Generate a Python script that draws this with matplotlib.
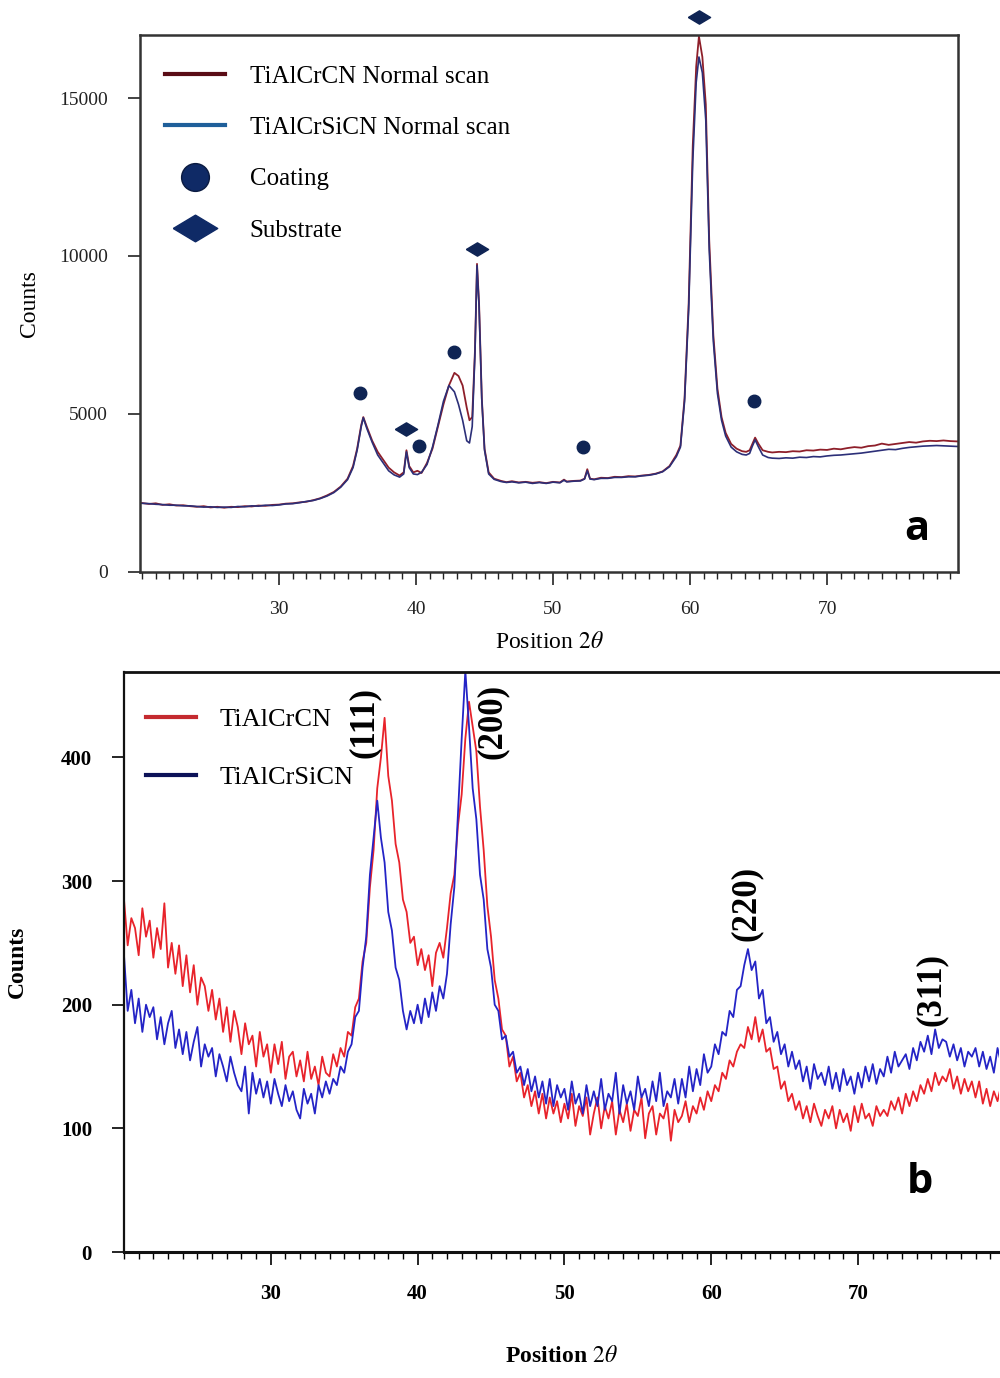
import numpy as np
import matplotlib
matplotlib.use("Agg")
import matplotlib.pyplot as plt
from matplotlib.lines import Line2D
from matplotlib.ticker import MultipleLocator

plt.rcParams['font.family'] = ['Liberation Serif', 'DejaVu Serif']
plt.rcParams['mathtext.fontset'] = 'stix'

# ---- panel a : normal scan in segments ----
x_a1 = [20.0, 20.5, 21.0, 21.5, 22.0, 22.5, 23.0, 23.5, 24.0, 24.5, 25.0, 25.5, 26.0, 26.5, 27.0,
        27.5, 28.0, 28.5, 29.0, 29.5, 30.0, 30.5, 31.0, 31.5, 32.0, 32.5, 33.0, 33.5, 34.0, 34.5]
red_a1 = [2180, 2150, 2170, 2120, 2140, 2100, 2110, 2080, 2060, 2080, 2040, 2060, 2030, 2060, 2050,
          2080, 2070, 2100, 2090, 2120, 2130, 2160, 2170, 2200, 2220, 2270, 2330, 2420, 2530, 2700]
blue_a1 = [2170, 2160, 2140, 2130, 2110, 2110, 2090, 2090, 2070, 2050, 2060, 2040, 2050, 2040, 2070,
           2060, 2090, 2080, 2110, 2100, 2120, 2150, 2160, 2190, 2230, 2260, 2320, 2400, 2510, 2680]

x_a2 = [35.0, 35.4, 35.7, 36.0, 36.15, 36.4, 36.8, 37.2, 37.6, 38.0, 38.4, 38.8, 39.1, 39.3, 39.5,
        39.8, 40.1, 40.4, 40.8, 41.2, 41.6, 42.0, 42.4, 42.8, 43.1, 43.4, 43.7, 43.9, 44.1, 44.3,
        44.45, 44.6, 44.8, 45.0, 45.3, 45.7]
red_a2 = [2950, 3350, 3900, 4650, 4900, 4600, 4150, 3800, 3550, 3300, 3150, 3050, 3150, 3850, 3350,
          3150, 3200, 3130, 3450, 3900, 4600, 5300, 5900, 6300, 6200, 5900, 5200, 4800, 4900, 7000,
          9750, 8500, 5500, 3900, 3150, 2950]
blue_a2 = [2920, 3300, 3850, 4600, 4880, 4550, 4100, 3700, 3450, 3200, 3070, 3000, 3100, 3800, 3300,
           3100, 3080, 3150, 3400, 3950, 4650, 5400, 5900, 5700, 5300, 4800, 4150, 4080, 4600, 6900,
           9700, 8400, 5450, 3850, 3100, 2930]

x_a3 = [46.2, 46.6, 47.0, 47.5, 48.0, 48.5, 49.0, 49.5, 50.0, 50.5, 50.8, 51.0, 51.5, 52.0, 52.3,
        52.5, 52.7, 53.0, 53.5, 54.0, 54.5, 55.0, 55.5, 56.0, 56.5, 57.0, 57.5, 58.0]
red_a3 = [2880, 2840, 2870, 2830, 2850, 2820, 2840, 2810, 2850, 2830, 2920, 2860, 2880, 2890, 2950,
          3250, 2950, 2930, 2980, 2970, 3010, 3000, 3030, 3020, 3050, 3070, 3110, 3180]
blue_a3 = [2860, 2830, 2850, 2820, 2840, 2800, 2830, 2800, 2840, 2820, 2900, 2850, 2870, 2880, 2940,
           3200, 2940, 2920, 2960, 2960, 2990, 2990, 3010, 3010, 3040, 3060, 3100, 3170]

x_a4 = [58.5, 59.0, 59.3, 59.6, 59.9, 60.2, 60.45, 60.65, 60.9, 61.15, 61.4, 61.7, 62.0, 62.3, 62.6,
        63.0, 63.4, 63.8, 64.1, 64.35, 64.55, 64.75, 65.0, 65.3, 65.7, 66.0]
red_a4 = [3350, 3700, 4000, 5500, 8500, 13500, 16000, 16950, 16300, 14800, 10500, 7500, 5800, 4900,
          4400, 4050, 3900, 3820, 3800, 3850, 4050, 4250, 4050, 3850, 3800, 3780]
blue_a4 = [3330, 3650, 3950, 5400, 8300, 13000, 15500, 16300, 15800, 14300, 10200, 7300, 5650, 4800,
           4300, 3950, 3800, 3720, 3700, 3750, 3980, 4180, 3950, 3700, 3620, 3600]

x_a5 = [66.5, 67.0, 67.5, 68.0, 68.5, 69.0, 69.5, 70.0, 70.5, 71.0, 71.5, 72.0, 72.5, 73.0, 73.5,
        74.0, 74.5, 75.0, 75.5, 76.0, 76.5, 77.0, 77.5, 78.0, 78.5, 79.0, 79.5, 80.0]
red_a5 = [3800, 3790, 3820, 3810, 3850, 3840, 3870, 3860, 3900, 3880, 3920, 3950, 3930, 3980, 4000,
          4060, 4020, 4050, 4080, 4110, 4090, 4130, 4150, 4140, 4160, 4140, 4130, 4150]
blue_a5 = [3590, 3610, 3600, 3630, 3620, 3650, 3640, 3670, 3690, 3700, 3720, 3740, 3760, 3790, 3820,
           3850, 3880, 3870, 3910, 3940, 3960, 3980, 3990, 4000, 3990, 3980, 3970, 3980]

x_top = x_a1 + x_a2 + x_a3 + x_a4 + x_a5
tialcrcn_a = red_a1 + red_a2 + red_a3 + red_a4 + red_a5
tialcrsicn_a = blue_a1 + blue_a2 + blue_a3 + blue_a4 + blue_a5

coating_x = [35.9, 40.2, 42.8, 52.2, 64.7]
coating_y = [5665, 3988, 6963, 3956, 5412]
substrate_x = [39.3, 44.45, 60.65]
substrate_y = [4526, 10223, 17566]

# ---- panel b : low-angle scan (0.25 deg steps) ----
x_low = np.arange(20.0, 80.001, 0.25)
tialcrcn_b = [285, 248, 270, 262, 240, 278, 255, 268,
              238, 262, 245, 282, 230, 250, 225, 248,
              215, 240, 210, 232, 200, 222, 215, 195,
              212, 188, 205, 178, 198, 170, 195, 182,
              160, 185, 168, 175, 150, 178, 158, 168,
              145, 168, 152, 170, 140, 158, 162, 142,
              155, 138, 162, 140, 150, 135, 158, 145,
              142, 160, 150, 165, 158, 178, 175, 198,
              205, 235, 250, 295, 325, 375, 400, 432,
              385, 365, 330, 315, 285, 275, 250, 255,
              232, 245, 228, 240, 215, 242, 250, 238,
              262, 290, 305, 345, 370, 415, 445, 425,
              405, 360, 325, 280, 255, 220, 205, 180,
              175, 150, 158, 138, 145, 125, 135, 118,
              130, 112, 128, 108, 125, 112, 122, 105,
              120, 108, 128, 102, 118, 110, 125, 95,
              112, 125, 100, 118, 108, 122, 95, 115,
              105, 120, 98, 115, 110, 125, 92, 112,
              118, 95, 112, 108, 120, 90, 115, 105,
              110, 122, 105, 118, 112, 125, 115, 130,
              122, 135, 130, 145, 140, 155, 150, 162,
              168, 165, 182, 172, 190, 170, 180, 162,
              165, 148, 150, 132, 138, 122, 128, 115,
              122, 108, 118, 105, 120, 110, 102, 115,
              108, 118, 100, 115, 105, 112, 98, 118,
              105, 120, 108, 112, 102, 118, 110, 115,
              110, 122, 115, 125, 112, 128, 118, 130,
              122, 135, 128, 140, 130, 145, 135, 142,
              138, 148, 132, 142, 128, 140, 130, 138,
              125, 138, 120, 132, 118, 130, 122, 135,
              128]
tialcrsicn_b = [240, 195, 212, 185, 205, 178, 200, 190,
                198, 172, 190, 168, 185, 195, 165, 180,
                160, 178, 155, 170, 182, 150, 168, 158,
                165, 142, 160, 150, 138, 158, 145, 135,
                130, 150, 112, 145, 128, 140, 125, 138,
                120, 140, 128, 118, 135, 122, 130, 115,
                108, 132, 120, 128, 112, 135, 125, 138,
                128, 140, 135, 150, 145, 162, 168, 190,
                195, 230, 255, 305, 335, 365, 335, 315,
                275, 260, 230, 220, 195, 180, 195, 185,
                200, 185, 205, 190, 210, 195, 215, 205,
                225, 265, 295, 355, 415, 470, 425, 375,
                350, 305, 285, 245, 230, 200, 195, 172,
                175, 158, 162, 145, 150, 135, 148, 130,
                142, 125, 138, 120, 140, 118, 135, 125,
                132, 115, 138, 120, 128, 112, 135, 118,
                130, 118, 140, 115, 128, 122, 145, 112,
                135, 120, 130, 115, 142, 125, 132, 118,
                138, 122, 145, 118, 130, 125, 140, 120,
                140, 125, 150, 130, 148, 135, 160, 145,
                150, 168, 160, 178, 175, 195, 190, 212,
                215, 232, 245, 228, 235, 205, 212, 185,
                190, 170, 178, 160, 168, 150, 162, 148,
                155, 138, 150, 132, 152, 140, 145, 135,
                150, 132, 145, 130, 148, 135, 142, 128,
                145, 133, 150, 138, 152, 136, 148, 142,
                158, 145, 162, 150, 155, 160, 148, 165,
                155, 170, 162, 175, 160, 180, 165, 172,
                170, 158, 168, 155, 165, 150, 162, 158,
                165, 150, 162, 148, 158, 145, 165, 152,
                160]

peak_labels = ['(111)', '(200)', '(220)', '(311)']
peak_x = [36.4, 45.1, 62.4, 75.0]
peak_y = [428, 429, 282, 212]

fig = plt.figure(figsize=(10, 13.78), dpi=100)

# ---------------- panel a ----------------
ax1 = fig.add_axes([0.140, 0.585, 0.818, 0.3897])
ax1.plot(x_top, tialcrcn_a, color='#8e1f2a', linewidth=1.3)
ax1.plot(x_top, tialcrsicn_a, color='#2c2f78', linewidth=1.2)

diamond = [(-1, 0), (0, 0.6), (1, 0), (0, -0.6), (-1, 0)]
ax1.plot(coating_x, coating_y, linestyle='none', marker='o', markersize=9, color='#0f2454')
ax1.plot(substrate_x, substrate_y, linestyle='none', marker=diamond, markersize=16,
         color='#0f2454', clip_on=False)

ax1.set_xlim(19.85, 79.56)
ax1.set_ylim(0, 17000)
ax1.set_xticks([30, 40, 50, 60, 70])
ax1.xaxis.set_minor_locator(MultipleLocator(1))
ax1.set_yticks([0, 5000, 10000, 15000])
ax1.tick_params(axis='both', which='major', direction='out', length=9, width=1.2,
                labelsize=14, pad=12, colors='#222222')
ax1.tick_params(axis='x', which='minor', direction='out', length=5, width=1.0, colors='#222222')
ax1.tick_params(axis='y', pad=14)
for s in ax1.spines.values():
    s.set_color('#333333')
    s.set_linewidth(1.8)

ax1.set_xlabel(r'Position $\mathit{2\theta}$', fontsize=17, labelpad=10)
ax1.set_ylabel('Counts', fontsize=17, labelpad=14)

handles_a = [
    Line2D([], [], color='#5a0c16', linewidth=3),
    Line2D([], [], color='#1f5f9a', linewidth=3),
    Line2D([], [], linestyle='none', marker='o', markersize=20, color='#0f2a66',
           markeredgecolor='#0a1a40'),
    Line2D([], [], linestyle='none', marker=diamond, markersize=32, color='#0f2a66'),
]
labels_a = ['TiAlCrCN Normal scan', 'TiAlCrSiCN Normal scan', 'Coating', 'Substrate']
ax1.legend(handles_a, labels_a, loc='upper left', bbox_to_anchor=(0.018, 0.962),
           frameon=False, fontsize=18, handlelength=2.4, handletextpad=1.0,
           labelspacing=1.15, borderaxespad=0)

ax1.text(0.965, 0.04, 'a', transform=ax1.transAxes, fontsize=30, fontweight='bold',
         family=['Open Sans', 'DejaVu Sans'], ha='right', va='bottom')

# ---------------- panel b ----------------
ax2 = fig.add_axes([0.124, 0.0914, 0.875, 0.4209])
ax2.plot(x_low, tialcrcn_b, color='#e8232b', linewidth=1.3)
ax2.plot(x_low, tialcrsicn_b, color='#2424c6', linewidth=1.3)

for lab, px, py in zip(peak_labels, peak_x, peak_y):
    ax2.text(px, py, lab, rotation=90, ha='center', va='center', fontsize=25,
             fontweight='bold')

ax2.set_xlim(20, 79.6)
ax2.set_ylim(0, 469)
ax2.set_xticks([30, 40, 50, 60, 70])
ax2.xaxis.set_minor_locator(MultipleLocator(1))
ax2.set_yticks([0, 100, 200, 300, 400])
ax2.tick_params(axis='both', which='major', direction='out', length=9, width=1.2,
                labelsize=15, pad=14)
ax2.tick_params(axis='x', which='minor', direction='out', length=5, width=1.0)
for lbl in ax2.get_xticklabels() + ax2.get_yticklabels():
    lbl.set_fontweight('bold')
ax2.spines['right'].set_visible(False)
for s in ['left', 'top', 'bottom']:
    ax2.spines[s].set_color('#111111')
ax2.spines['top'].set_linewidth(2.0)
ax2.spines['bottom'].set_linewidth(2.2)
ax2.spines['left'].set_linewidth(1.6)

ax2.set_xlabel(r'Position $\mathit{2\theta}$', fontsize=17, labelpad=30, fontweight='bold')
ax2.set_ylabel('Counts', fontsize=17, labelpad=24, fontweight='bold')

handles_b = [Line2D([], [], color='#c42a2f', linewidth=3),
             Line2D([], [], color='#0c1258', linewidth=3)]
ax2.legend(handles_b, ['TiAlCrCN', 'TiAlCrSiCN'], loc='upper left',
           bbox_to_anchor=(0.013, 0.957), frameon=False, fontsize=19,
           handlelength=1.9, handletextpad=0.9, labelspacing=1.3, borderaxespad=0)

ax2.text(0.925, 0.085, 'b', transform=ax2.transAxes, fontsize=30, fontweight='bold',
         family=['Open Sans', 'DejaVu Sans'], ha='right', va='bottom')

fig.savefig('out.png', dpi=100)
